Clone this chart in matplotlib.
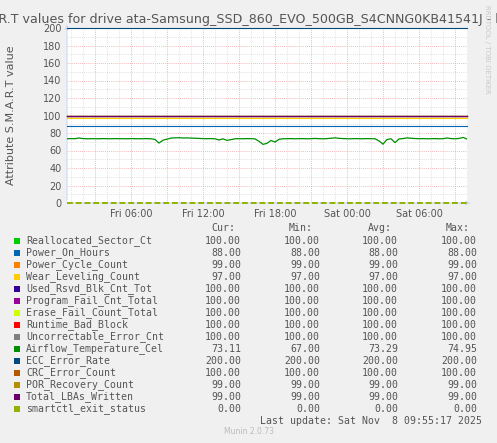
import numpy as np
import matplotlib
matplotlib.use("Agg")
import matplotlib.pyplot as plt
import matplotlib.dates as mdates
from matplotlib.patches import Rectangle

# --- data ---
names = ["Reallocated_Sector_Ct", "Power_On_Hours", "Power_Cycle_Count",
         "Wear_Leveling_Count", "Used_Rsvd_Blk_Cnt_Tot", "Program_Fail_Cnt_Total",
         "Erase_Fail_Count_Total", "Runtime_Bad_Block", "Uncorrectable_Error_Cnt",
         "Airflow_Temperature_Cel", "ECC_Error_Rate", "CRC_Error_Count",
         "POR_Recovery_Count", "Total_LBAs_Written", "smartctl_exit_status"]
colors = ["#00CC00", "#0066B3", "#FF8000", "#FFCC00", "#330099", "#990099",
          "#CCFF00", "#FF0000", "#808080", "#008F00", "#00487D", "#B35A00",
          "#B38F00", "#6B006B", "#8FB300"]
cur = [100, 88, 99, 97, 100, 100, 100, 100, 100, 73.11, 200, 100, 99, 99, 0]
vmin = [100, 88, 99, 97, 100, 100, 100, 100, 100, 67.00, 200, 100, 99, 99, 0]
vavg = [100, 88, 99, 97, 100, 100, 100, 100, 100, 73.29, 200, 100, 99, 99, 0]
vmax = [100, 88, 99, 97, 100, 100, 100, 100, 100, 74.95, 200, 100, 99, 99, 0]

# temperature samples every 20 minutes, Fri 00:40 -> Sat 10:00
temp = [73.4, 73.6, 73.5, 74.3, 73.6, 73.4, 73.5, 73.5, 73.4, 73.6,
        73.5, 73.4, 73.6, 73.5, 73.5, 73.4, 73.6, 73.5, 73.4, 73.5,
        73.6, 73.4, 72.6, 68.5, 71.8, 73.0, 74.2, 74.5, 74.6, 74.3,
        74.4, 74.2, 74.0, 73.8, 73.6, 73.5, 73.6, 73.4, 72.0, 73.3,
        71.6, 72.4, 73.4, 73.5, 73.4, 73.6, 73.5, 73.3, 70.5, 67.0,
        68.2, 71.5, 69.6, 72.8, 73.4, 73.5, 73.6, 73.4, 73.5, 73.6,
        73.4, 73.5, 73.8, 73.5, 73.4, 73.6, 74.0, 74.5, 73.9, 73.6,
        73.5, 73.4, 73.6, 73.5, 73.4, 73.6, 73.5, 73.4, 71.0, 67.2,
        72.6, 73.4, 69.0, 73.2, 73.6, 74.4, 74.0, 73.7, 73.5, 73.6,
        73.4, 73.5, 73.6, 73.4, 73.5, 74.3, 73.6, 73.4, 73.8, 74.95, 73.11]

t_start = np.datetime64("2025-11-07T00:40")
t_end = np.datetime64("2025-11-08T10:00")
times = t_start + np.arange(len(temp)) * np.timedelta64(20, "m")

W, H = 497, 443
def fx(px):
    return px / W
def fy(py):
    return 1 - py / H

fig = plt.figure(figsize=(W / 100, H / 100), dpi=100, facecolor="#F0F0F0")
ax = fig.add_axes([fx(67), fy(203), 400 / W, 175 / H])
ax.set_facecolor("white")

# grid
for v in range(10, 200, 20):
    ax.axhline(v, color="#D8D8D8", lw=0.6, ls=(0, (1, 1.5)), zorder=1)
for v in range(20, 201, 20):
    ax.axhline(v, color="#F0A0A0", lw=0.6, ls=(0, (1, 1.5)), zorder=1)
hours = np.arange(np.datetime64("2025-11-07T01:00"), t_end + np.timedelta64(1, "m"),
                  np.timedelta64(1, "h"))
for h in hours:
    hh = int((h - np.datetime64("2025-11-07T00:00")) / np.timedelta64(1, "h"))
    c = "#F0A0A0" if hh % 3 == 0 else "#D8D8D8"
    ax.axvline(h, color=c, lw=0.6, ls=(0, (1, 1.5)), zorder=1)

# axes with arrows
axis_c = "#CFD6F8"
ax.annotate("", xy=(0, 1.035), xytext=(0, 0), xycoords="axes fraction",
            arrowprops=dict(arrowstyle="-|>", color=axis_c, lw=0.8, mutation_scale=6), zorder=2)
ax.annotate("", xy=(1.015, 0), xytext=(0, 0), xycoords="axes fraction",
            arrowprops=dict(arrowstyle="-|>", color=axis_c, lw=0.8, mutation_scale=6), zorder=2)

# series
span = np.array([t_start, t_end])
for i, name in enumerate(names):
    if name == "Airflow_Temperature_Cel":
        ax.plot(times, temp, color=colors[i], lw=0.9, zorder=3)
    elif name == "smartctl_exit_status":
        ax.plot(span, [cur[i]] * 2, color=colors[i], lw=1.4, ls=(0, (3, 1.5)),
                zorder=5, clip_on=False)
    else:
        ax.plot(span, [cur[i]] * 2, color=colors[i], lw=0.8, zorder=3, clip_on=False)

ax.set_xlim(t_start, t_end)
ax.set_ylim(0, 200)
ax.set_yticks(range(0, 201, 20))
ax.xaxis.set_major_locator(mdates.HourLocator(byhour=[0, 6, 12, 18]))
ax.xaxis.set_major_formatter(mdates.DateFormatter("%a %H:%M"))
ax.tick_params(length=0, labelsize=7, colors="#555555", pad=4)
for s in ax.spines.values():
    s.set_visible(False)

fig.text(fx(11), fy(115), "Attribute S.M.A.R.T value", rotation=90, ha="center", va="center",
         fontsize=8, color="#555555")

fig.text(0.5, fy(19), "S.M.A.R.T values for drive ata-Samsung_SSD_860_EVO_500GB_S4CNNG0KB41541J - by day",
         ha="center", va="center", fontsize=9.1, color="#555555")
fig.text(fx(487), fy(5), "RRDTOOL / TOBI OETIKER", rotation=-90, ha="center", va="top",
         fontsize=5, color="#C8C8C8")

# legend
mono = "DejaVu Sans Mono"
fs = 7.1
tc = "#555555"
col_r = [241, 320, 398, 477]
head_r = [235, 313, 392, 470]
for lab, xr in zip(["Cur:", "Min:", "Avg:", "Max:"], head_r):
    fig.text(fx(xr), fy(228), lab, ha="right", va="center", family=mono, fontsize=fs, color=tc)
for i, name in enumerate(names):
    y = 241 + 12 * i
    fig.patches.append(Rectangle((fx(14), fy(y + 3)), 6 / W, 6 / H, transform=fig.transFigure,
                                 facecolor=colors[i], edgecolor="none"))
    fig.text(fx(26), fy(y), name, ha="left", va="center", family=mono, fontsize=fs, color=tc)
    for vals, xr in zip([cur, vmin, vavg, vmax], col_r):
        fig.text(fx(xr), fy(y), "%.2f" % vals[i], ha="right", va="center",
                 family=mono, fontsize=fs, color=tc)

fig.text(fx(482), fy(421), "Last update: Sat Nov  8 09:55:17 2025", ha="right", va="center",
         family=mono, fontsize=fs, color=tc)
fig.text(0.5, fy(432), "Munin 2.0.73", ha="center", va="center", fontsize=5.5, color="#BBBBBB")

fig.savefig("out.png", dpi=100, facecolor=fig.get_facecolor())
